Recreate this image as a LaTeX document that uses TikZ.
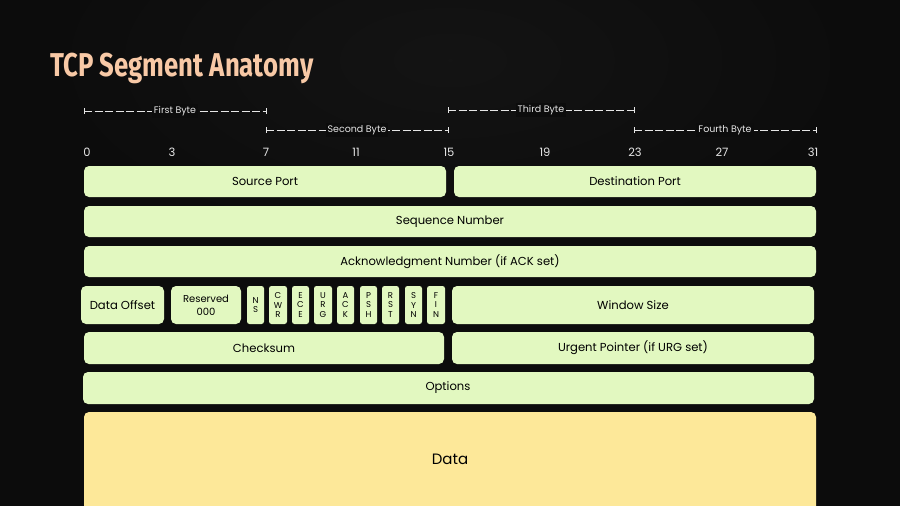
\documentclass[tikz,border=0pt]{standalone}
\usepackage{fontspec}
\setmainfont{Poppins}
\newfontfamily\titlefont[FakeStretch=0.78]{Fira Sans Bold}
\definecolor{bg}{HTML}{0C0C0C}
\definecolor{grn}{HTML}{E2F8C0}
\definecolor{yel}{HTML}{FDE899}
\definecolor{ttl}{HTML}{F8C9A6}
\definecolor{lbl}{HTML}{E6E6E6}
\begin{document}
\begin{tikzpicture}[x=1pt,y=-1pt,
 box/.style={fill=grn,rounded corners=5pt,draw=none},
 txt/.style={font=\fontsize{11.6}{13}\selectfont,text=black},
 flag/.style={font=\fontsize{8.5}{9.4}\selectfont,text=black,align=center},
 bit/.style={font=\fontsize{11.5}{13}\selectfont,text=lbl},
 byt/.style={font=\fontsize{9.5}{10}\selectfont,text=lbl,fill=bg,inner sep=2pt},
 br/.style={draw=lbl,dashed,dash pattern=on 8pt off 2.5pt,line width=0.9pt}]
\useasboundingbox (0,0) rectangle (900,506);
\fill[bg] (0,0) rectangle (900,506);
\shade[inner color=black!80!white!40!bg,outer color=bg,opacity=0.5] (450,60) ellipse (420 and 200);
\node[anchor=west,text=ttl,font=\titlefont\fontsize{33}{36}\selectfont] (title) at (47,68) {TCP Segment Anatomy};
% byte brackets
\foreach \a/\b/\y/\t/\n in {84/266/111/First Byte/b1,266/448/130/Second Byte/b2,448/634/110/Third Byte/b3,634/816/130/Fourth Byte/b4}{
 \coordinate (\n l) at (\a,\y); \coordinate (\n r) at (\b,\y);
 \draw[br] (\n l) -- (\n r);
 \draw[lbl,line width=0.9pt] (\a,\y-3) -- (\a,\y+3) (\b,\y-3) -- (\b,\y+3);
 \node[byt] (\n) at ({(\a+\b)/2},\y) {\t};
}
\foreach \x/\v in {87/0,172/3,266/7,356/11,449/15,545/19,635/23,722/27,813/31}
 \node[bit] (bit\v) at (\x,152) {\v};
\fill[box] (84,166) rectangle (446,197); \node[txt] (sp) at (265,181.5) {Source Port};
\fill[box] (454,166) rectangle (816,197); \node[txt] (dp) at (635,181.5) {Destination Port};
\fill[box] (84,206) rectangle (816,237); \node[txt] (seq) at (450,221.5) {Sequence Number};
\fill[box] (84,246) rectangle (816,277); \node[txt] (ack) at (450,261.5) {Acknowledgment Number (if ACK set)};
\fill[box] (81,286) rectangle (164,324); \node[txt] (doff) at (122.5,305) {Data Offset};
\fill[box] (171,286) rectangle (241,324); \node[txt,align=center,font=\fontsize{10}{13}\selectfont] (res) at (206,305) {Reserved\\000};
\foreach \a/\b/\t/\n in {247/264/{N\\S}/ns,269/287/{C\\W\\R}/cwr,292/309/{E\\C\\E}/ece,314/332/{U\\R\\G}/urg,337/354/{A\\C\\K}/fack,360/377/{P\\S\\H}/psh,382/399/{R\\S\\T}/rst,405/422/{S\\Y\\N}/syn,427/445/{F\\I\\N}/fin}{
 \fill[grn,rounded corners=2.5pt] (\a,286) rectangle (\b,324);
 \node[flag] (\n) at ({(\a+\b)/2},305) {\t};
}
\fill[box] (452,286) rectangle (814,324); \node[txt] (win) at (633,305) {Window Size};
\fill[box] (84,332) rectangle (444,364); \node[txt] (cs) at (264,348) {Checksum};
\fill[box] (452,332) rectangle (814,364); \node[txt] (urgp) at (633,348) {Urgent Pointer (if URG set)};
\fill[box] (83,372) rectangle (814,404); \node[txt] (opt) at (448,388) {Options};
\fill[yel,rounded corners=5pt] (84,412) rectangle (816,520); \node[txt,font=\fontsize{15}{17}\selectfont] (data) at (450,459) {Data};
\end{tikzpicture}
\end{document}
